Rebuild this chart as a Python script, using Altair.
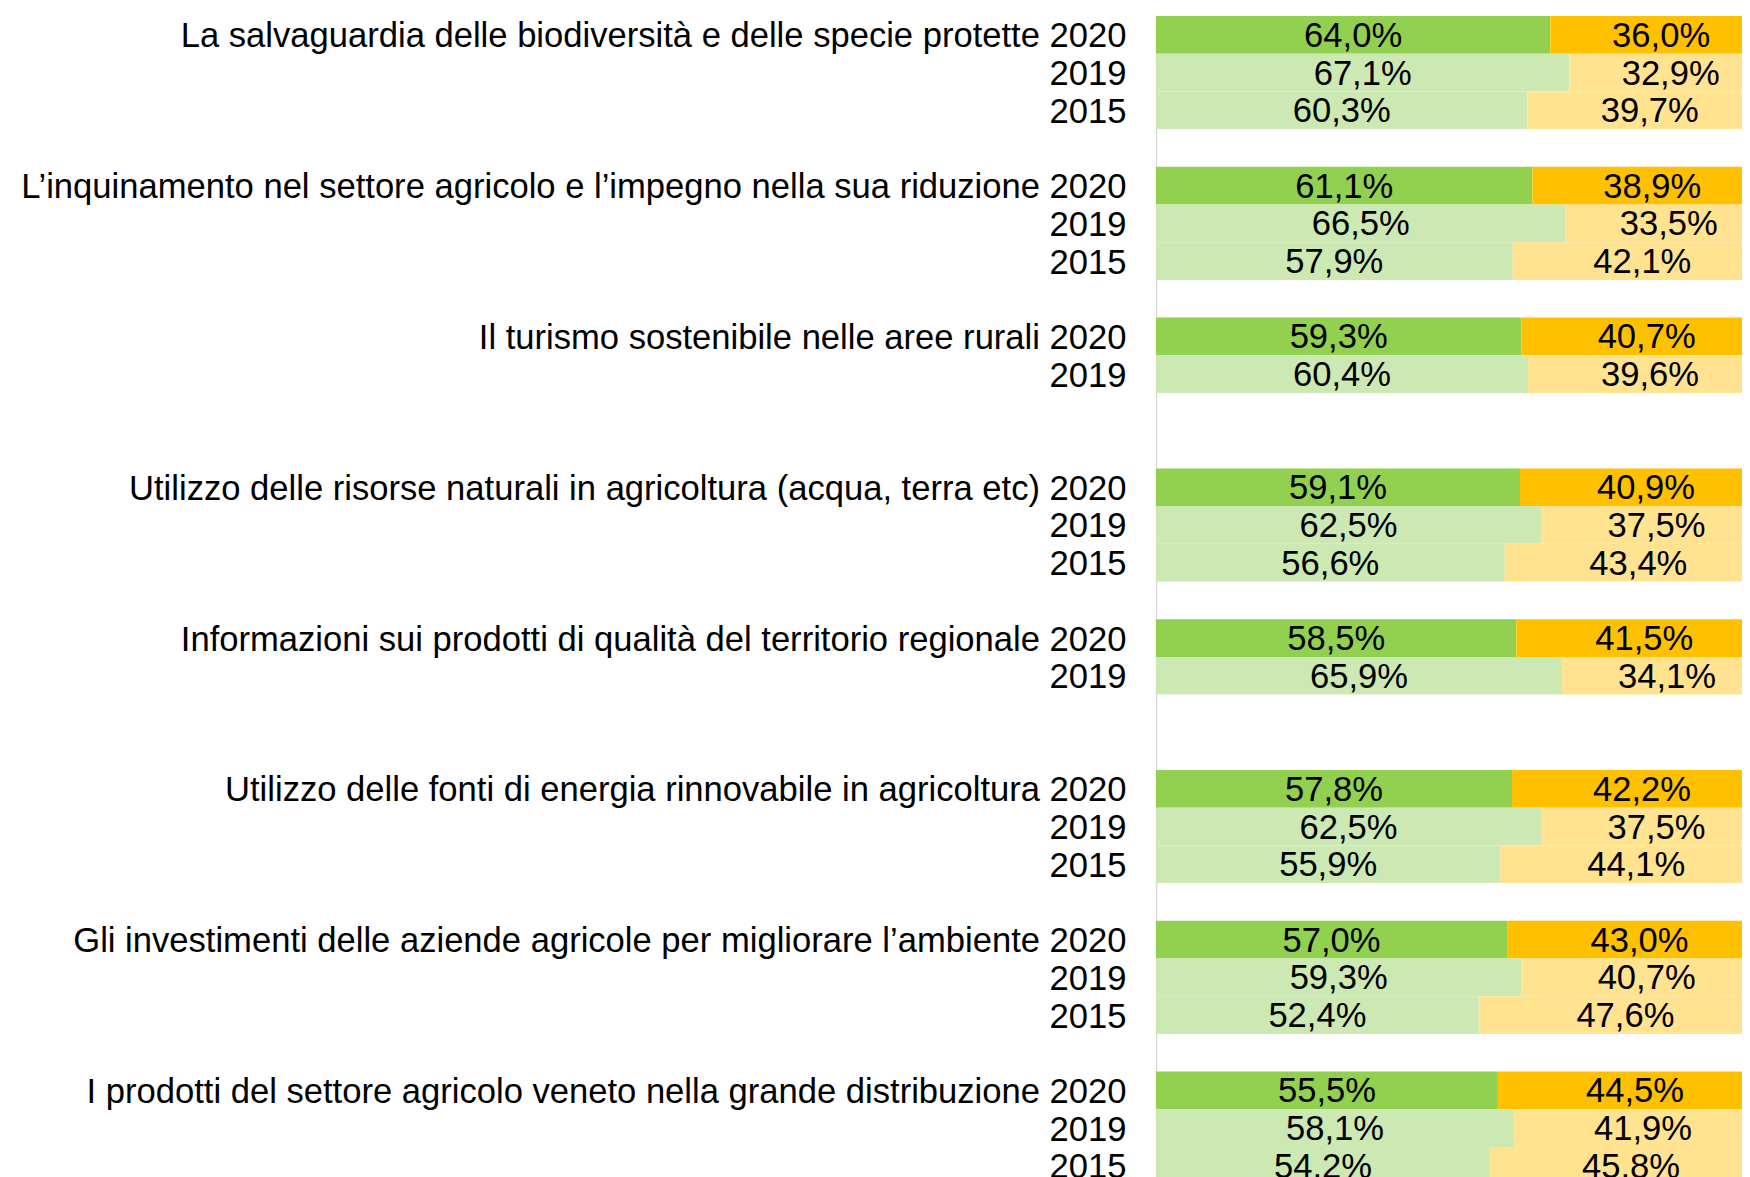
import json
import altair as alt
import pandas as pd

categories = [
    "La salvaguardia delle biodiversità e delle specie protette",
    "L’inquinamento nel settore agricolo e l’impegno nella sua riduzione",
    "Il turismo sostenibile nelle aree rurali",
    "Utilizzo delle risorse naturali in agricoltura (acqua, terra etc)",
    "Informazioni sui prodotti di qualità del territorio regionale",
    "Utilizzo delle fonti di energia rinnovabile in agricoltura",
    "Gli investimenti delle aziende agricole per migliorare l’ambiente",
    "I prodotti del settore agricolo veneto nella grande distribuzione",
]
years = ["2020", "2019", "2015"]
pos_2020 = [64.0, 61.1, 59.3, 59.1, 58.5, 57.8, 57.0, 55.5]
pos_2019 = [67.1, 66.5, 60.4, 62.5, 65.9, 62.5, 59.3, 58.1]
pos_2015 = [60.3, 57.9, None, 56.6, None, 55.9, 52.4, 54.2]
neg_2020 = [36.0, 38.9, 40.7, 40.9, 41.5, 42.2, 43.0, 44.5]
neg_2019 = [32.9, 33.5, 39.6, 37.5, 34.1, 37.5, 40.7, 41.9]
neg_2015 = [39.7, 42.1, None, 43.4, None, 44.1, 47.6, 45.8]

ROWS_PER_GROUP = 4
FONT = "Liberation Sans"
FS = 34.6
PLOT_W = 586
PLOT_H = 1161
ROW_PX = 37.7
FULL_BAR_PX = 616


def fmt(v):
    return f"{v:.1f}".replace(".", ",") + "%"


records = []
labels = [""] * (len(categories) * ROWS_PER_GROUP)
tick_values = []
for g, cat in enumerate(categories):
    pos = [pos_2020[g], pos_2019[g], pos_2015[g]]
    neg = [neg_2020[g], neg_2019[g], neg_2015[g]]
    for k, yr in enumerate(years):
        pv, nv = pos[k], neg[k]
        if pv is None:
            continue
        r = g * ROWS_PER_GROUP + k
        labels[r] = f"{cat} {yr}" if k == 0 else yr
        tick_values.append(r + 0.5)
        suffix = "new" if k == 0 else "old"
        records.append(dict(row=r, row2=r + 1, mid=r + 0.5, start=0.0, end=pv,
                            center=pv / 2, label=fmt(pv), key=f"pos_{suffix}"))
        records.append(dict(row=r, row2=r + 1, mid=r + 0.5, start=pv, end=pv + nv,
                            center=pv + nv / 2, label=fmt(nv), key=f"neg_{suffix}"))

df = pd.DataFrame(records)

x_scale = alt.Scale(domain=[0, 100 * PLOT_W / FULL_BAR_PX], nice=False, zero=False)
y_scale = alt.Scale(domain=[0, PLOT_H / ROW_PX], reverse=True, nice=False, zero=False)

y_axis = alt.Axis(
    values=tick_values,
    labelExpr=json.dumps(labels) + "[floor(datum.value)]",
    ticks=False, grid=False, domain=True, domainColor="#D9D9D9", domainWidth=1.5,
    labelFont=FONT, labelFontSize=FS, labelColor="black", labelPadding=30,
    labelOffset=2,
    labelLimit=1500, labelOverlap=False, labelFlush=False, title=None,
)

base = alt.Chart(df)
bars = base.mark_rect(clip=True).encode(
    x=alt.X("start:Q", scale=x_scale, axis=None),
    x2="end:Q",
    y=alt.Y("row:Q", scale=y_scale, axis=y_axis),
    y2="row2:Q",
    color=alt.Color("key:N", legend=None, scale=alt.Scale(
        domain=["pos_new", "pos_old", "neg_new", "neg_old"],
        range=["#92D050", "#CDE9B3", "#FFC000", "#FFE391"])),
)
text = base.mark_text(clip=True, font=FONT, fontSize=FS, color="black",
                      baseline="middle", align="center", dy=2).encode(
    x=alt.X("center:Q", scale=x_scale, axis=None),
    y=alt.Y("mid:Q", scale=y_scale),
    text="label:N",
)

chart = (bars + text).properties(
    width=PLOT_W, height=PLOT_H,
    autosize=alt.AutoSizeParams(type="none"),
    padding={"left": 1148, "top": 8, "right": 0, "bottom": 0},
    background="white",
).configure_view(stroke=None)

chart.save("out.html", embed_options={"renderer": "svg", "actions": False})
